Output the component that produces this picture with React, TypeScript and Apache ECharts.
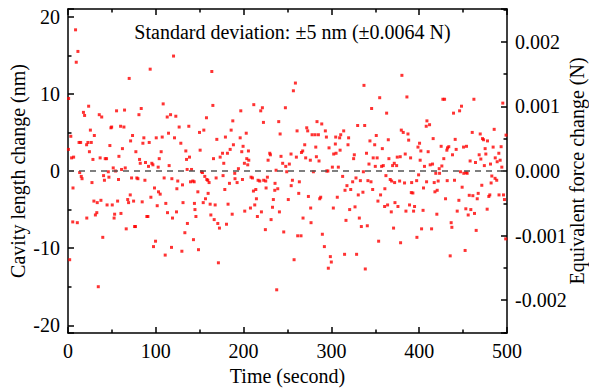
import React, { useEffect, useRef } from "react";
import * as echarts from "echarts";

// [time (s), cavity length change (nm)], grouped by time span
const seg0to60: number[][] = [
  [0.7, 9.4], [0.5, 2.8], [1.9, -11.5], [3.2, 4.5], [4.1, 1.7], [6.4, 1.8], [5.7, -2.2], [5.4, -6.6],
  [8.6, 18.3], [9.4, 14.1], [11.3, 15.5], [10.6, -6.7], [12.6, 3.7], [14.4, 3.7], [13.3, -0.2], [15.1, -0.7],
  [16.0, -1.0], [17.6, 7.6], [18.9, 7.2], [23.5, 8.4], [21.2, 3.4], [22.7, 3.7], [24.4, 2.5], [25.5, 5.3],
  [26.5, 3.7], [27.3, -1.5], [30.0, 4.6], [28.4, 1.5], [21.4, -6.1], [29.5, -3.9], [31.2, -5.7], [32.8, -5.4],
  [33.3, -4.1], [34.5, -15.0], [35.6, 7.3], [38.4, 7.0], [36.6, 1.7], [37.5, -3.8], [39.6, -8.6], [40.5, -0.6],
  [41.5, -1.2], [42.4, 1.6], [43.9, 1.6], [44.5, -4.4], [45.9, -0.1], [46.6, -0.8], [47.7, 3.3], [48.9, 5.6],
  [49.7, 5.7], [50.4, -4.4], [51.5, 0.4], [52.5, -6.1], [53.1, -5.6], [54.2, 0.0], [55.3, 7.8], [56.5, -3.9],
  [57.5, -1.1], [58.0, 1.9], [59.9, 5.8],
];
const seg60to124: number[][] = [
  [60.3, -5.5], [61.0, 0.2], [62.0, 2.9], [63.7, 5.7], [64.4, 7.9], [65.2, 0.4], [66.3, -7.5], [68.0, -3.7],
  [69.0, -4.1], [69.7, 12.0], [70.9, -3.1], [71.3, 3.9], [72.4, -0.9], [73.5, 4.6], [74.7, -3.9], [75.8, -7.2],
  [76.9, -7.2], [77.3, 2.5], [78.4, -0.9], [79.6, -1.0], [80.8, 7.3], [81.5, 1.5], [82.3, 1.0], [83.4, 8.1],
  [84.5, -4.0], [85.3, 3.6], [86.4, 4.3], [87.6, -1.2], [88.3, 1.1], [89.8, -5.9], [91.0, -5.9], [91.7, 0.6],
  [92.5, 3.7], [93.6, 13.2], [94.4, -3.4], [95.5, 1.0], [96.7, 0.8], [97.4, -9.8], [98.5, -2.2], [99.7, -9.1],
  [100.5, 4.3], [101.6, -4.5], [102.7, 0.5], [103.1, -2.7], [103.9, 1.6], [105.0, -3.0], [106.1, 2.5], [107.3, 4.4],
  [108.4, 8.7], [109.5, -0.9], [110.7, -10.9], [111.4, -4.2], [113.0, 7.0], [113.3, -5.4], [114.5, 4.9], [115.2, 0.7],
  [116.8, 7.3], [117.9, -9.9], [118.3, -1.0], [119.0, -6.1], [120.2, 14.9], [121.3, 4.3], [122.8, 7.1], [123.6, -5.3],
  [124.0, -2.3],
];
const seg124to188: number[][] = [
  [125.0, -1.3], [126.6, 5.7], [128.5, 3.6], [129.7, -10.4], [130.4, -1.8], [131.0, -4.1], [133.1, -8.0], [134.2, 2.6],
  [135.0, 1.5], [135.7, 0.2], [136.0, -6.8], [137.6, 5.8], [138.4, 1.8], [139.5, -1.4], [140.7, 0.2], [142.2, -1.3],
  [142.9, -8.9], [143.7, -1.4], [144.0, -4.2], [144.6, -5.0], [145.7, -5.9], [147.9, -2.7], [148.6, -10.2], [149.8, 5.0],
  [150.5, 2.7], [152.0, -0.1], [153.2, -0.2], [154.0, -4.1], [154.7, 5.3], [155.8, -0.7], [156.6, -3.6], [157.7, 6.9],
  [158.1, -1.1], [159.2, -1.2], [159.6, -2.9], [160.7, -1.5], [161.9, -4.3], [162.7, -5.7], [163.8, 12.9], [165.0, 8.5],
  [165.7, 1.6], [166.5, -6.3], [167.6, -4.4], [168.7, -0.9], [169.5, 4.1], [170.6, -6.8], [171.3, -11.9], [172.5, -7.4],
  [173.3, 1.8], [176.0, 2.3], [176.6, -0.6], [177.4, 1.0], [178.6, -2.4], [179.3, 4.4], [180.5, -6.9], [181.6, 2.3],
  [182.3, -4.3], [183.9, -1.6], [184.7, 2.8], [185.8, 5.3], [187.0, -5.6], [187.7, 6.5], [188.4, 3.4],
];
const seg188to252: number[][] = [
  [189.9, -0.3], [190.2, -1.0], [192.6, -1.5], [194.1, 0.3], [196.1, 4.3], [196.8, 7.8], [197.9, 2.5], [198.7, -1.1],
  [199.4, 3.2], [200.9, 1.0], [201.3, -5.2], [203.0, 4.9], [203.6, 1.6], [204.7, 0.8], [205.5, 2.6], [205.9, 1.4],
  [207.8, -4.8], [208.5, -0.8], [210.1, -0.9], [211.2, -2.6], [211.6, 8.6], [212.7, -4.4], [213.9, -2.4], [214.6, -3.6],
  [215.7, -5.9], [216.5, -1.2], [218.4, -1.3], [219.5, 7.8], [220.3, -5.3], [221.4, 8.2], [222.6, 6.3], [222.9, -1.2],
  [224.8, -7.6], [225.2, -1.3], [225.6, -2.2], [227.1, -0.8], [227.9, 1.4], [229.8, 2.3], [230.5, 2.1], [231.3, -6.3],
  [232.9, -4.7], [233.9, -3.7], [235.5, -2.5], [235.8, -1.6], [237.0, 0.1], [237.7, -15.4], [238.9, -2.3], [240.0, 6.4],
  [240.8, -5.3], [241.6, 4.8], [242.6, 1.9], [244.5, 1.0], [245.7, -7.9], [247.6, 8.2], [248.0, 0.6], [249.1, -0.1],
  [250.9, -3.7], [252.1, 0.9],
];
const seg252to317: number[][] = [
  [254.0, 2.2], [254.2, -1.9], [255.6, -1.2], [256.7, 10.4], [257.5, -11.5], [259.0, 11.4], [260.1, 1.8], [260.9, 5.2],
  [261.6, -8.4], [262.8, -2.9], [263.5, -1.4], [265.4, -8.4], [265.9, 2.4], [267.3, 2.6], [267.7, -6.1], [269.6, 3.4],
  [270.7, 1.7], [271.9, 5.6], [273.0, 5.2], [273.8, -3.3], [276.0, 1.4], [276.4, -4.8], [276.8, -6.7], [278.0, 4.7],
  [279.5, -0.1], [281.4, 4.7], [282.2, 3.1], [282.9, 1.85], [283.6, 6.4], [285.2, 4.7], [285.9, 1.3], [286.7, -3.6],
  [287.8, -3.4], [289.0, 6.1], [289.7, -8.2], [292.0, -9.8], [293.1, 5.2], [294.3, 4.4], [294.6, 0.0], [296.0, 0.0],
  [296.5, -12.6], [297.3, 3.0], [298.8, -11.1], [299.9, -11.8], [301.1, 0.5], [302.2, -4.8], [302.6, 2.2], [304.5, 3.5],
  [304.9, 4.4], [305.3, 2.3], [306.7, -3.4], [307.9, 0.5], [309.4, 4.3], [309.9, 2.7], [310.6, 4.7], [312.8, -0.7],
  [314.0, 5.2], [315.0, -10.8], [315.5, -2.5], [316.6, -6.4],
];
const seg317to380: number[][] = [
  [317.7, -1.9], [318.9, 3.4], [319.6, 4.3], [320.8, -5.0], [322.0, -2.4], [324.2, -1.4], [325.3, 1.6], [326.1, 2.1],
  [326.9, -4.65], [328.0, -0.9], [328.7, -10.8], [329.9, 5.9], [330.6, -3.1], [331.8, -6.1], [333.0, -1.25], [334.1, -7.2],
  [335.9, -2.75], [336.4, -0.1], [337.1, 11.1], [337.9, 5.9], [338.6, -12.7], [340.0, 2.3], [340.9, -7.1], [341.6, -1.25],
  [342.8, 0.9], [343.9, 3.9], [345.1, -1.4], [345.8, 8.1], [347.0, -2.4], [347.6, 1.7], [349.3, 3.4], [350.0, 0.6],
  [351.1, 4.6], [352.1, 1.7], [353.0, -3.9], [353.8, -9.1], [355.0, 9.5], [356.0, -3.1], [357.2, 0.6], [358.0, 2.9],
  [359.1, 0.7], [360.6, -4.6], [360.9, -2.3], [362.1, -0.6], [362.9, 7.5], [364.0, -4.4], [364.8, 4.05], [365.5, 1.6],
  [367.0, -1.1], [368.2, -5.3], [368.6, -1.3], [369.7, 0.7], [370.8, -7.4], [371.6, 1.0], [372.0, -1.5], [372.4, -4.1],
  [374.3, 0.7], [375.0, 1.8], [375.8, -4.6], [377.7, -1.3], [378.4, 1.85], [378.8, -9.3], [379.6, 5.3], [380.3, 12.4],
];
const seg380to444: number[][] = [
  [381.8, 5.0], [383.3, -1.55], [384.1, 2.2], [384.9, -5.2], [386.0, 9.6], [387.2, 4.8], [388.0, 4.0], [389.0, -4.4],
  [390.2, 1.7], [391.0, -2.8], [391.4, -1.5], [392.8, -2.85], [393.6, -5.2], [394.7, -4.6], [397.1, -1.25], [397.4, -8.6],
  [398.6, 3.1], [399.3, -0.5], [400.4, 3.6], [401.1, 1.4], [401.9, 2.6], [402.7, -7.5], [404.4, -5.1], [404.9, -2.2],
  [406.0, 0.6], [408.0, 5.8], [408.4, -1.4], [408.8, 6.5], [410.2, 2.5], [411.8, 6.0], [412.5, 0.8], [414.1, -7.5],
  [415.2, 0.9], [415.9, 4.2], [417.1, -1.5], [417.9, -2.7], [418.9, -0.3], [420.1, -5.6], [420.5, -2.5], [421.6, -1.3],
  [422.8, 0.3], [423.2, -0.3], [425.0, 3.2], [425.8, 0.65], [427.0, 9.3], [428.0, 1.6], [428.9, 9.3], [430.0, -3.6],
  [431.5, 2.7], [431.9, -1.25], [432.2, 3.0], [433.7, 3.15], [435.3, -11.0], [436.4, -6.7], [437.2, -7.3], [437.9, 2.1],
  [439.1, 7.5], [440.2, -1.2], [441.0, 4.1], [442.1, 2.8], [443.3, -5.2],
];
const seg444to500: number[][] = [
  [445.2, -3.8], [446.0, 7.8], [447.0, -0.1], [448.2, 8.4], [448.9, -2.1], [450.5, 3.1], [450.8, -0.3], [452.3, -10.3],
  [453.1, -4.9], [453.5, -0.2], [453.9, 3.2], [454.6, -0.3], [455.8, -5.7], [457.0, -3.15], [458.0, 1.3], [458.8, -5.0],
  [460.4, 5.0], [461.1, -3.2], [462.3, 9.3], [463.0, -5.5], [464.1, 1.1], [464.9, -7.7], [466.1, -3.6], [467.2, -2.9],
  [468.3, 2.1], [469.5, 4.8], [470.2, 1.55], [471.3, -1.85], [472.1, 4.2], [473.3, 4.05], [474.2, 0.7], [475.1, 2.9],
  [475.9, 2.2], [477.4, -4.95], [477.8, 3.9], [479.3, -3.3], [480.4, -3.1], [481.2, 0.9], [481.9, -1.55], [482.7, -0.65],
  [484.2, 3.1], [485.4, 5.4], [486.4, -0.95], [486.6, 1.7], [488.3, -1.2], [488.8, 1.2], [490.7, 2.3], [490.9, -3.1],
  [492.2, 1.4], [493.3, 3.15], [494.1, 0.5], [495.2, 8.8], [496.0, -3.1], [497.1, -3.7], [498.5, -8.8], [498.9, 4.65],
];

const timeRange = [0, 500];
const cavityRange = [-21, 21];
const forceRange = [-0.00251, 0.00251];
const titleText = "Standard deviation: \u00b15 nm (\u00b10.0064 N)";
const xName = "Time (second)";
const yLeftName = "Cavity length change (nm)";
const yRightName = "Equivalent force change (N)";

const FONT = "Liberation Serif";

export default function App() {
  const ref = useRef<HTMLDivElement>(null);
  useEffect(() => {
    if (!ref.current) return;
    const chart = echarts.init(ref.current, null, { renderer: "svg" });
    const points = [
      ...seg0to60, ...seg60to124, ...seg124to188, ...seg188to252,
      ...seg252to317, ...seg317to380, ...seg380to444, ...seg444to500,
    ];
    const lineStyle = { color: "#000", width: 1.5 };
    const labelStyle = { color: "#000", fontSize: 20, fontFamily: FONT, fontWeight: "normal", textBorderWidth: 0 };
    const nameStyle = { color: "#000", fontSize: 20, fontFamily: FONT, fontWeight: "normal", textBorderWidth: 0 };
    const axisLine = { show: true, onZero: false, lineStyle };
    const tick = { show: true, inside: true, length: 6, lineStyle };
    const minor = { show: true, splitNumber: 2, length: 3.5, lineStyle };
    chart.setOption({
      animation: false,
      backgroundColor: "#fff",
      textStyle: { fontFamily: FONT, fontWeight: "normal" },
      title: {
        text: titleText,
        left: 287.5,
        top: 17,
        textAlign: "center",
        textStyle: { fontSize: 20, fontWeight: "normal", fontFamily: FONT, color: "#000" },
      },
      grid: { left: 68, right: 82, top: 9, bottom: 57, containLabel: false, outerBoundsMode: "none" },
      xAxis: [
        {
          type: "value", position: "bottom", min: timeRange[0], max: timeRange[1], interval: 100,
          axisLine, axisTick: tick, minorTick: minor,
          splitLine: { show: false },
          axisLabel: { ...labelStyle, margin: 8 },
          name: xName, nameLocation: "middle", nameGap: 33, nameMoveOverlap: false, nameTextStyle: nameStyle,
        },
        {
          type: "value", position: "top", min: timeRange[0], max: timeRange[1], interval: 100,
          axisLine, axisTick: tick, minorTick: minor,
          splitLine: { show: false }, axisLabel: { show: false },
        },
      ],
      yAxis: [
        {
          type: "value", position: "left", min: cavityRange[0], max: cavityRange[1],
          axisLine, axisTick: tick, minorTick: minor,
          splitLine: { show: false },
          axisLabel: { ...labelStyle, margin: 8, showMinLabel: false, showMaxLabel: false },
          name: yLeftName, nameLocation: "middle", nameGap: 40, nameMoveOverlap: false, nameTextStyle: nameStyle,
        },
        {
          type: "value", position: "right", min: forceRange[0], max: forceRange[1],
          axisLine, axisTick: tick, minorTick: minor,
          splitLine: { show: false },
          axisLabel: {
            ...labelStyle, margin: 8, showMinLabel: false, showMaxLabel: false,
            formatter: (v: number) => (Math.abs(v) < 1e-9 ? "0.000" : v.toFixed(3)),
          },
          name: yRightName, nameLocation: "middle", nameGap: 60, nameMoveOverlap: false, nameTextStyle: nameStyle,
        },
      ],
      series: [
        {
          type: "scatter",
          xAxisIndex: 0,
          yAxisIndex: 0,
          data: points,
          symbol: "rect",
          symbolSize: 3,
          itemStyle: { color: "#ff0000" },
          markLine: {
            silent: true,
            symbol: ["none", "none"],
            label: { show: false },
            lineStyle: { color: "#555", type: [6, 5], width: 1.6 },
            data: [{ yAxis: 0 }],
          },
        },
      ],
    });
    return () => chart.dispose();
  }, []);
  return (
    <>
      <style>{`#ec-chart text, #ec-chart tspan { font-family: 'Liberation Serif', serif !important; font-weight: normal !important; stroke: none !important; }`}</style>
      <div id="ec-chart" ref={ref} style={{ position: "absolute", left: 0, top: 0, width: 589, height: 390 }} />
    </>
  );
}
